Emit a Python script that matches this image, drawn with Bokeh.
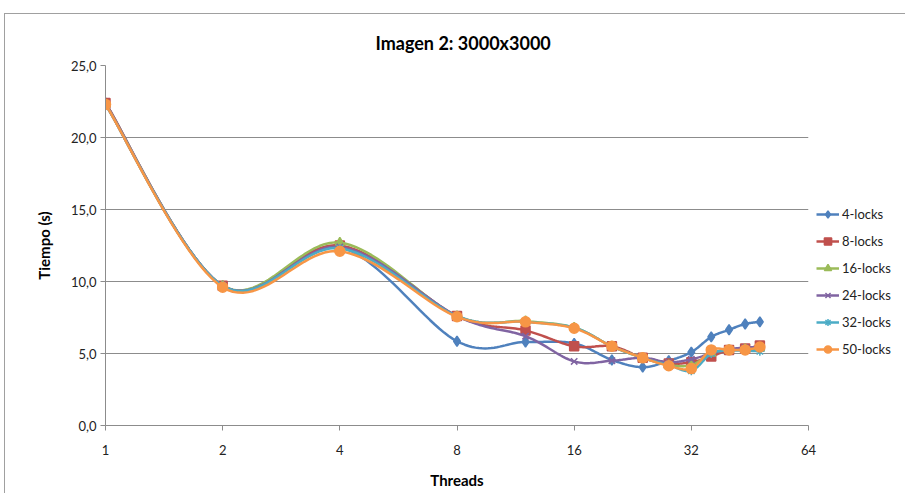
import numpy as np
from bokeh.plotting import figure
from bokeh.models import (Legend, LegendItem, FixedTicker, CustomJSTickFormatter, Range1d)
from bokeh.embed import file_html
from bokeh.resources import INLINE

# ---- data ----
threads = [1, 2, 4, 8, 12, 16, 20, 24, 28, 32, 36, 40, 44, 48]
series_names = ["4-locks", "8-locks", "16-locks", "24-locks", "32-locks", "50-locks"]
locks4 = [22.4, 9.7, 12.4, 5.85, 5.8, 5.7, 4.55, 4.05, 4.5, 5.1, 6.15, 6.65, 7.05, 7.2]
locks8 = [22.4, 9.7, 12.5, 7.6, 6.6, 5.5, 5.5, 4.7, 4.3, 4.4, 4.8, 5.25, 5.35, 5.55]
locks16 = [22.3, 9.7, 12.7, 7.6, 7.25, 6.8, 5.5, 4.7, 4.2, 4.2, 5.0, 5.25, 5.3, 5.35]
locks24 = [22.3, 9.7, 12.4, 7.6, 6.2, 4.45, 4.5, 4.7, 4.4, 4.6, 5.0, 5.3, 5.4, 5.45]
locks32 = [22.3, 9.7, 12.3, 7.6, 7.2, 6.8, 5.5, 4.7, 4.2, 3.8, 5.0, 5.2, 5.2, 5.15]
locks50 = [22.3, 9.6, 12.1, 7.55, 7.2, 6.75, 5.5, 4.7, 4.15, 3.95, 5.25, 5.25, 5.25, 5.45]
all_series = [locks4, locks8, locks16, locks24, locks32, locks50]
x_ticks = [1, 2, 4, 8, 16, 32, 64]
y_ticks = [0, 5, 10, 15, 20, 25]

colors = ["#4F81BD", "#C0504D", "#9BBB59", "#8064A2", "#4BACC6", "#F79646"]
markers = ["diamond", "square", "triangle", "x", "asterisk", "circle"]
msizes = [10, 9, 9, 9, 9, 10]


def smooth(xs, ys, n=24):
    """Catmull-Rom style smoothing (like Excel's smoothed line) in log2-x space."""
    u = np.log2(np.asarray(xs, dtype=float))
    v = np.asarray(ys, dtype=float)
    pts = np.column_stack([u, v])
    out = [pts[0]]
    for i in range(len(pts) - 1):
        p0 = pts[i - 1] if i > 0 else pts[i]
        p1 = pts[i]
        p2 = pts[i + 1]
        p3 = pts[i + 2] if i + 2 < len(pts) else pts[i + 1]
        c1 = p1 + (p2 - p0) / 6.0
        c2 = p2 - (p3 - p1) / 6.0
        t = np.linspace(0, 1, n)[1:, None]
        seg = ((1 - t) ** 3) * p1 + 3 * ((1 - t) ** 2) * t * c1 + 3 * (1 - t) * t ** 2 * c2 + t ** 3 * p2
        out.extend(seg)
    out = np.array(out)
    return 2 ** out[:, 0], out[:, 1]


p = figure(frame_width=703, frame_height=360, output_backend="svg", toolbar_location=None,
           x_axis_type="log", x_range=Range1d(1, 64), y_range=Range1d(0, 25),
           min_border_left=100, min_border_top=51, min_border_bottom=68, min_border_right=0,
           title="Imagen 2: 3000x3000")
p.xaxis[0].ticker = FixedTicker(ticks=x_ticks)
p.xaxis[0].formatter = CustomJSTickFormatter(code="return Math.round(tick).toString();")
p.yaxis[0].ticker = FixedTicker(ticks=y_ticks)
p.yaxis[0].formatter = CustomJSTickFormatter(code="return tick.toFixed(1).replace('.', ',');")

p.title.align = "left"
p.title.offset = 270
p.title.standoff = 23
p.title.text_font = "Lato"
p.title.text_font_size = "18px"
p.title.text_font_style = "bold"
p.title.text_color = "#000000"

p.outline_line_color = None
p.background_fill_color = "white"
p.border_fill_color = "white"

p.xgrid.grid_line_color = None
p.ygrid.grid_line_color = "#8c8c8c"
p.ygrid.grid_line_width = 1

for ax in (p.xaxis[0], p.yaxis[0]):
    ax.axis_line_color = "#8c8c8c"
    ax.major_tick_line_color = "#8c8c8c"
    ax.minor_tick_line_color = None
    ax.major_tick_out = 5
    ax.major_tick_in = 0
    ax.major_label_text_font = "Lato"
    ax.major_label_text_font_size = "13px"
    ax.major_label_text_color = "#222222"
    ax.axis_label_text_font = "Lato"
    ax.axis_label_text_font_size = "15px"
    ax.axis_label_text_font_style = "bold"
    ax.axis_label_text_color = "#000000"

p.xaxis[0].axis_label = "Threads"
p.xaxis[0].major_label_standoff = 14
p.xaxis[0].axis_label_standoff = 13
p.yaxis[0].axis_label = "Tiempo (s)"
p.yaxis[0].major_label_standoff = 4
p.yaxis[0].axis_label_standoff = 15

items = []
for name, ys, c, m, s in zip(series_names, all_series, colors, markers, msizes):
    sx, sy = smooth(threads, ys)
    r1 = p.line(sx, sy, line_color=c, line_width=2.5)
    r2 = p.scatter(threads, ys, marker=m, size=s, fill_color=c, line_color=c, line_width=1.5)
    items.append(LegendItem(label=name, renderers=[r1, r2]))

legend = Legend(items=items, location=(8, 67), border_line_color=None,
                background_fill_alpha=0, label_text_font="Lato", label_text_font_size="13px",
                label_text_color="#222222", spacing=9, glyph_width=23, glyph_height=18,
                label_height=18, label_standoff=3, padding=0, margin=5)
p.add_layout(legend, "right")

p.styles = {"border-left": "1px solid #a0a0a0", "border-top": "1px solid #a0a0a0",
            "margin-left": "4px", "margin-top": "13px"}

open("out.html", "w").write(file_html(p, INLINE))
